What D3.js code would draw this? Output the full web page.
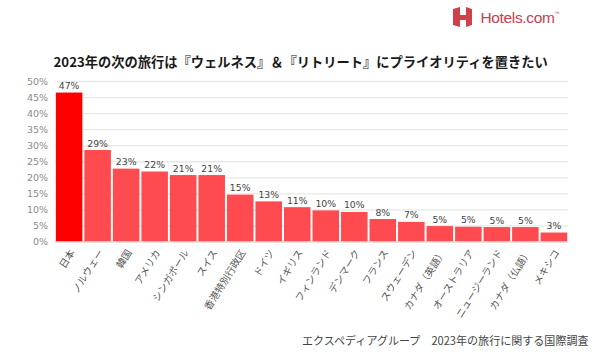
<!DOCTYPE html>
<html>
<head>
    <meta charset="UTF-8" />
    <title>Hotels.com wellness</title>
    <script src="https://d3js.org/d3.v7.min.js"></script>
    <style>
        body { margin: 0; background: white; }
        text { font-family: "Noto Sans CJK JP", "Noto Sans", sans-serif; }
        .gridlines line { stroke: #e8e8e8; stroke-width: 1.3px; }
        .gridlines .domain { stroke: none; }
        .yaxis .domain, .yaxis line { stroke: none; }
        .yaxis text { fill: #8a8a8a; font-size: 9.5px; font-family: "DejaVu Sans", sans-serif; }
        .xaxis .domain { stroke: #f3d4d4; }
        .xaxis line { stroke: none; }
        .xaxis text { fill: #555; font-size: 9.8px; }
    </style>
</head>
<body>
    <svg id="chart" width="602" height="352"></svg>
    <script>
        // values
        const countries = ['日本', 'ノルウェー', '韓国', 'アメリカ', 'シンガポール', 'スイス', '香港特別行政区', 'ドイツ', 'イギリス',
            'フィンランド', 'デンマーク', 'フランス', 'スウェーデン', 'カナダ（英語）', 'オーストラリア', 'ニュージーランド', 'カナダ（仏語）', 'メキシコ'];
        const values = [46.4, 28.5, 22.7, 21.8, 20.7, 20.7, 14.6, 12.5, 10.7, 9.7, 9.2, 7.0, 6.1, 4.8, 4.6, 4.5, 4.5, 2.8];
        const valueLabels = ['47%', '29%', '23%', '22%', '21%', '21%', '15%', '13%', '11%', '10%', '10%', '8%', '7%', '5%', '5%', '5%', '5%', '3%'];
        const yTicks = [0, 5, 10, 15, 20, 25, 30, 35, 40, 45, 50];

        const titleText = '2023年の次の旅行は『ウェルネス』＆『リトリート』にプライオリティを置きたい';
        const sourceText = 'エクスペディアグループ　2023年の旅行に関する国際調査';

        const svg = d3.select('svg#chart');
        const margins = {top: 81, right: 34, bottom: 110.5, left: 55};
        const chartWidth = 602 - margins.left - margins.right;
        const chartHeight = 352 - margins.top - margins.bottom;
        const chartArea = svg.append('g')
            .attr('transform', `translate(${margins.left}, ${margins.top})`);

        const xScale = d3.scaleBand().domain(countries).range([0, chartWidth]).paddingInner(0.07).paddingOuter(0.03);
        const yScale = d3.scaleLinear().domain([0, 50]).range([chartHeight, 0]);

        // gridlines
        chartArea.append('g')
            .attr('class', 'gridlines')
            .call(d3.axisLeft(yScale).tickValues(yTicks).tickSize(-chartWidth).tickFormat(''));

        // y axis
        chartArea.append('g')
            .attr('class', 'yaxis')
            .attr('transform', 'translate(-7, 0)')
            .call(d3.axisLeft(yScale).tickValues(yTicks).tickSize(0).tickPadding(0).tickFormat(d => d + '%'));

        // bars
        chartArea.selectAll('rect.bar')
            .data(countries)
            .join('rect')
            .attr('class', 'bar')
            .attr('x', d => xScale(d))
            .attr('width', xScale.bandwidth())
            .attr('y', (d, i) => yScale(values[i]))
            .attr('height', (d, i) => chartHeight - yScale(values[i]))
            .attr('fill', (d, i) => i === 0 ? '#ff0000' : '#ff4b50');

        // value labels
        chartArea.selectAll('text.value')
            .data(countries)
            .join('text')
            .attr('class', 'value')
            .attr('x', d => xScale(d) + xScale.bandwidth() / 2)
            .attr('y', (d, i) => yScale(values[i]) - 3.5)
            .attr('text-anchor', 'middle')
            .style('font-size', '9.3px')
            .style('font-family', '"DejaVu Sans", sans-serif')
            .style('fill', '#444')
            .text((d, i) => valueLabels[i]);

        // x axis, rotated labels
        const xAxis = chartArea.append('g')
            .attr('class', 'xaxis')
            .attr('transform', `translate(0, ${chartHeight})`)
            .call(d3.axisBottom(xScale).tickSize(0));
        xAxis.selectAll('text')
            .attr('text-anchor', 'end')
            .attr('dy', 0)
            .attr('y', 0)
            .attr('transform', 'translate(6, 11) rotate(-58)');

        // title
        svg.append('text')
            .attr('x', 53.5)
            .attr('y', 67)
            .style('font-size', '13.25px')
            .style('font-weight', 'bold')
            .style('fill', '#1a1a1a')
            .text(titleText);

        // source
        svg.append('text')
            .attr('x', 302)
            .attr('y', 344.5)
            .style('font-size', '11.05px')
            .style('fill', '#444')
            .text(sourceText);

        // logo
        const logo = svg.append('g').attr('transform', 'translate(453, 7)');
        logo.append('path')
            .attr('d', 'M0,2 L7,0 L7,8 L13,8 L13,0 L19,2 L19,18 L13,20 L13,13 L7,13 L7,20 L0,18 Z')
            .attr('fill', '#d0404a');
        const logoText = svg.append('text')
            .attr('x', 480.5)
            .attr('y', 22.5)
            .style('font-size', '15.5px')
            .style('font-family', '"Liberation Sans", sans-serif')
            .style('fill', '#c8404e')
            .style('letter-spacing', '-0.35px')
            .text('Hotels.com');
        logoText.append('tspan')
            .attr('dy', -8)
            .style('font-size', '5px')
            .text('™');
    </script>
</body>
</html>
